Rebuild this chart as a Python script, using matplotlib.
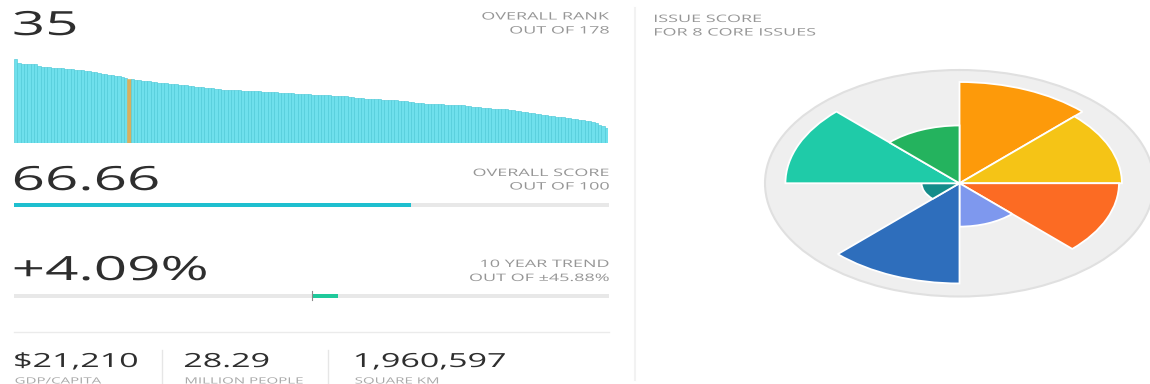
import numpy as np
import matplotlib
matplotlib.use("Agg")
import matplotlib.pyplot as plt
from matplotlib.patheffects import AbstractPathEffect
from matplotlib.transforms import Affine2D
from matplotlib.lines import Line2D

# ---- data -------------------------------------------------------------
rank_scores = [
    87.67, 82.9, 82.6, 82.4, 82.3, 82.1, 81.8, 80.5, 79.4, 79.1,
    78.9, 78.6, 78.3, 78.1, 77.9, 77.6, 77.1, 76.7, 76.4, 76.0,
    75.7, 75.2, 74.6, 74.1, 73.5, 72.9, 72.3, 71.6, 71.0, 70.4,
    69.8, 69.3, 68.8, 67.4, 66.66, 66.2, 65.9, 65.5, 65.1, 64.6,
    64.2, 63.9, 63.5, 63.0, 62.6, 62.1, 61.8, 61.4, 61.0, 60.7,
    60.4, 60.0, 59.6, 59.1, 58.7, 58.3, 58.0, 57.7, 57.3, 57.0,
    56.6, 56.1, 55.7, 55.4, 55.2, 55.0, 54.9, 54.7, 54.6, 54.5,
    54.3, 54.1, 54.0, 53.8, 53.6, 53.5, 53.3, 53.1, 52.9, 52.6,
    52.4, 52.2, 51.9, 51.7, 51.5, 51.2, 51.0, 50.8, 50.6, 50.4,
    50.2, 50.0, 49.8, 49.7, 49.5, 49.4, 49.2, 49.0, 48.9, 48.5,
    48.0, 47.6, 47.2, 46.9, 46.5, 46.2, 46.0, 45.8, 45.6, 45.4,
    45.2, 45.0, 44.8, 44.6, 44.4, 44.2, 44.0, 43.5, 43.0, 42.6,
    42.1, 41.7, 41.4, 41.1, 40.9, 40.7, 40.6, 40.4, 40.3, 40.1,
    40.0, 39.9, 39.8, 39.7, 39.6, 39.0, 38.5, 38.0, 37.5, 37.1,
    36.8, 36.5, 36.2, 35.9, 35.6, 35.4, 35.1, 34.9, 34.6, 34.4,
    33.8, 33.2, 32.6, 32.0, 31.5, 30.9, 30.3, 29.8, 29.2, 28.8,
    28.3, 27.9, 27.5, 27.0, 26.6, 26.2, 25.7, 25.0, 24.6, 24.1,
    23.6, 23.1, 22.7, 22.2, 21.2, 19.0, 17.2, 15.47,
]
overall_rank = 35
total_countries = 178
overall_score = 66.66
trend_pct = 4.09
trend_range = 45.88

stat_values = ["$21,210", "28.29", "1,960,597"]
stat_labels = ["GDP/CAPITA", "MILLION PEOPLE", "SQUARE KM"]

# issue scores, clockwise from 12 o'clock
issue_scores = [89.4, 83.5, 82.0, 38.3, 88.5, 19.5, 89.5, 51.0]
issue_colors = ["#FD9A0A", "#F5C416", "#FC6B23", "#7E98EE",
                "#2E6EBC", "#138C8A", "#1FCBA8", "#24B35E"]

# ---- styling ----------------------------------------------------------
W, H = 1150, 384
FONT = "Open Sans"
DARK = "#2E2E2E"
GREY = "#969696"
SX = 1.75  # horizontal widening of glyphs


class HStretch(AbstractPathEffect):
    """Draw text glyphs widened horizontally around an anchor (0 left, 1 right)."""

    def __init__(self, sx, anchor=0.0):
        super().__init__()
        self.sx = sx
        self.anchor = anchor

    def draw_path(self, renderer, gc, tpath, affine, rgbFace=None):
        ext = tpath.get_extents(affine)
        x0 = ext.x0 + self.anchor * ext.width
        widen = Affine2D().translate(-x0, 0).scale(self.sx, 1).translate(x0, 0)
        renderer.draw_path(gc, tpath, affine + widen, rgbFace)


def fx(x):
    return x / W


def fy(y):
    return 1 - y / H


def label(x, y, s, size, color, ha="left"):
    anchor = {"left": 0.0, "right": 1.0, "center": 0.5}[ha]
    fig.text(fx(x), fy(y), s, fontsize=size, color=color, family=FONT,
             ha=ha, va="baseline",
             path_effects=[HStretch(SX, anchor)])


def axes_px(x0, y0, x1, y1, **kw):
    return fig.add_axes([fx(x0), fy(y1), (x1 - x0) / W, (y1 - y0) / H], **kw)


fig = plt.figure(figsize=(W / 100, H / 100), dpi=100)
fig.patch.set_facecolor("white")

LEFT, RIGHT = 14, 609

# ---- rank bars ----------------------------------------------------------
ax = axes_px(LEFT, 50, RIGHT - 1, 143)
n = len(rank_scores)
colors = ["#6FE0EC"] * n
colors[overall_rank - 1] = "#D8B060"
edges = ["#4FCAD8"] * n
edges[overall_rank - 1] = "#D8B060"
ax.bar(np.arange(n), rank_scores, width=1.0, color=colors,
       edgecolor=edges, linewidth=0.45)
ax.set_xlim(-0.5, n - 0.5)
ax.set_ylim(0, 93 / 0.96)
ax.axis("off")

label(13, 35, str(overall_rank), 24, DARK)
label(RIGHT, 19.5, "OVERALL RANK", 7.4, GREY, ha="right")
label(RIGHT, 33.5, f"OUT OF {total_countries}", 7.4, GREY, ha="right")

# ---- overall score -------------------------------------------------------
label(13, 190, f"{overall_score:.2f}", 24, DARK)
label(RIGHT, 176, "OVERALL SCORE", 7.4, GREY, ha="right")
label(RIGHT, 189.5, "OUT OF 100", 7.4, GREY, ha="right")

ax = axes_px(LEFT, 203, RIGHT, 207)
ax.barh(0, 100, height=1.0, color="#E8E8E8")
ax.barh(0, overall_score, height=1.0, color="#1EBFCF")
ax.set_xlim(0, 100)
ax.set_ylim(-0.5, 0.5)
ax.axis("off")

# ---- ten year trend ------------------------------------------------------
label(13, 280, f"+{trend_pct:.2f}%", 24, DARK)
label(RIGHT, 267, "10 YEAR TREND", 7.4, GREY, ha="right")
label(RIGHT, 281, f"OUT OF \u00b1{trend_range:.2f}%", 7.4, GREY, ha="right")

ax = axes_px(LEFT, 294, RIGHT, 298)
ax.barh(0, 2 * trend_range, left=-trend_range, height=0.8, color="#E8E8E8")
ax.barh(0, trend_pct, left=0, height=1.0, color="#1FC99B")
ax.plot([0, 0], [-1.0, 1.2], color="#8a8a8a", lw=0.8, clip_on=False)
ax.set_xlim(-trend_range, trend_range)
ax.set_ylim(-0.5, 0.5)
ax.axis("off")

# ---- separators -----------------------------------------------------------
fig.add_artist(Line2D([fx(LEFT), fx(RIGHT)], [fy(332), fy(332)],
                      color="#EBEBEB", lw=1.0))
for xs in (162, 328):
    fig.add_artist(Line2D([fx(xs), fx(xs)], [fy(350), fy(384)],
                          color="#E6E6E6", lw=1.0))
fig.add_artist(Line2D([fx(635), fx(635)], [fy(8), fy(380)],
                      color="#F2F2F2", lw=1.5))

# ---- country facts ---------------------------------------------------------
for x, v, t in zip((14, 184, 354), stat_values, stat_labels):
    label(x, 367, v, 14, DARK)
    label(x + 1, 383.5, t, 6.2, "#A8A8A8")

# ---- issue scores --------------------------------------------------------
label(654, 22, "ISSUE SCORE", 7.4, GREY)
label(654, 35.5, "FOR 8 CORE ISSUES", 7.4, GREY)

pax = axes_px(765, 70, 1154, 296.5, projection="polar")
pax.set_theta_zero_location("N")
pax.set_theta_direction(-1)
k = len(issue_scores)
theta = np.deg2rad(np.arange(k) * 360 / k + 180 / k)
pax.bar(theta, issue_scores, width=2 * np.pi / k, bottom=0,
        color=issue_colors, edgecolor="white", linewidth=1.3)
pax.set_ylim(0, 100)
pax.set_facecolor("#EFEFEF")
pax.spines["polar"].set_edgecolor("#E0E0E0")
pax.spines["polar"].set_linewidth(1.5)
pax.set_xticks([])
pax.set_yticks([])
pax.grid(False)
pax.set_aspect("auto")

fig.savefig("out.png", dpi=100, facecolor="white")
